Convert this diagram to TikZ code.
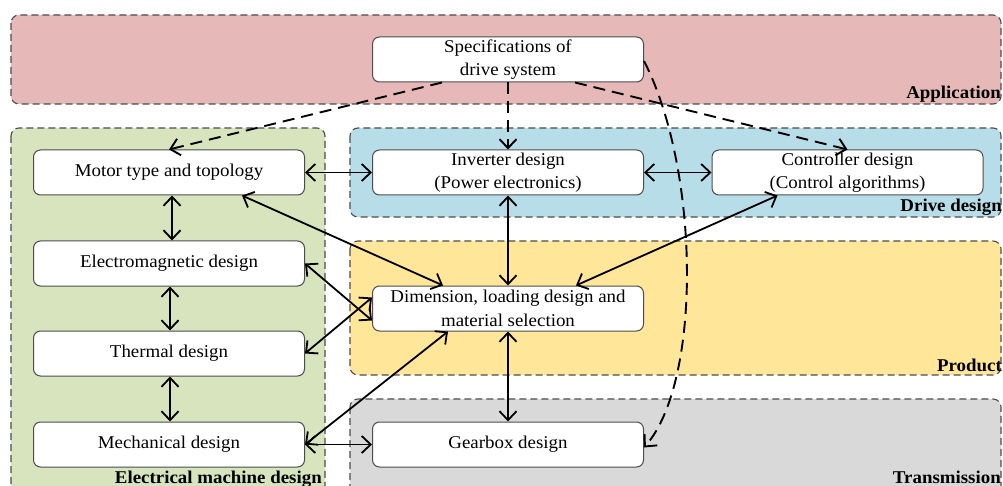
\documentclass[tikz,border=0pt]{standalone}
\usepackage{fontspec}
\setmainfont{Liberation Serif}[FakeStretch=1.05]
\usetikzlibrary{arrows.meta}

\definecolor{appfill}{HTML}{E6B8B7}
\definecolor{emfill}{HTML}{D7E4BD}
\definecolor{drivefill}{HTML}{B7DDE8}
\definecolor{prodfill}{HTML}{FFE699}
\definecolor{transfill}{HTML}{D9D9D9}

\begin{document}
\begin{tikzpicture}[x=1pt,y=-1pt,
  region/.style={draw=black!70, dash pattern=on 7pt off 4pt, rounded corners=8pt, line width=1.1pt},
  box/.style={draw=black!70, fill=white, rounded corners=7pt, line width=1pt,
              minimum width=271pt, minimum height=45pt, align=center, inner sep=0pt,
              font=\fontsize{18}{23.5}\selectfont},
  barb/.tip={Straight Barb[length=9pt,width=17pt]},
  link/.style={line width=1.8pt, barb-barb},
  spec/.style={line width=1.9pt, dash pattern=on 12pt off 7pt, -barb},
  tag/.style={font=\bfseries\fontsize{18}{20}\selectfont, anchor=base east, inner sep=0pt}]

\useasboundingbox (0,0) rectangle (1003,486);
\clip (0,0) rectangle (1003,486);

% domain regions
\draw[region, fill=appfill]   (11,15)  rectangle (1001,104);
\draw[region, fill=emfill]    (11,128) rectangle (325,500);
\draw[region, fill=drivefill] (350,128) rectangle (1001,217);
\draw[region, fill=prodfill]  (350,241) rectangle (1001,375);
\draw[region, fill=transfill] (350,399) rectangle (1001,500);

% region titles
\node[tag] (tapp)   at (1001,99)  {Application};
\node[tag] (tdrive) at (1002,212) {Drive design};
\node[tag] (tprod)  at (1002,371) {Product};
\node[tag] (ttrans) at (1001,483) {Transmission};
\node[tag] (telec)  at (322,483)  {Electrical machine design};

% design steps
\node[box] (spec)  at (508,59.5)    {Specifications of\\drive system};
\node[box] (motor) at (169,172.5)   {Motor type and topology};
\node[box] (em)    at (169,263.5)   {Electromagnetic design};
\node[box] (therm) at (169,353.5)   {Thermal design};
\node[box] (mech)  at (169,444.5)   {Mechanical design};
\node[box] (inv)   at (508,172.5)   {Inverter design\\(Power electronics)};
\node[box] (ctrl)  at (847.5,172.5) {Controller design\\(Control algorithms)};
\node[box] (dim)   at (508,308.5)   {Dimension, loading design and\\material selection};
\node[box] (gear)  at (508,444.5)   {Gearbox design};

% requirements flowing out of the specification
\draw[spec] ([xshift=-66pt]spec.south) -- (motor.north);
\draw[spec] (spec.south) -- (inv.north);
\draw[spec] ([xshift=67pt]spec.south) -- (ctrl.north);
\draw[spec] ([yshift=-1.5pt]spec.east) .. controls (700,170) and (702,382) .. ([yshift=-3pt]gear.east);

% mutual dependencies
\draw[link] (motor.east) -- (inv.west);
\draw[link] (inv.east) -- (ctrl.west);
\draw[link] ([xshift=3pt]motor.south) -- ([xshift=3pt]em.north);
\draw[link] ([xshift=1pt]em.south) -- ([xshift=1pt]therm.north);
\draw[link] ([xshift=1pt]therm.south) -- ([xshift=1pt]mech.north);
\draw[link] ([xshift=73pt]motor.south) -- ([xshift=-65pt]dim.north);
\draw[link] (em.east) -- ([yshift=-12pt]dim.west);
\draw[link] (therm.east) -- ([yshift=11pt]dim.west);
\draw[link] (mech.east) -- ([xshift=-60pt]dim.south);
\draw[link] (mech.east) -- (gear.west);
\draw[link] (inv.south) -- (dim.north);
\draw[link] ([xshift=-70pt]ctrl.south) -- ([xshift=68pt]dim.north);
\draw[link] (dim.south) -- (gear.north);
\end{tikzpicture}
\end{document}
